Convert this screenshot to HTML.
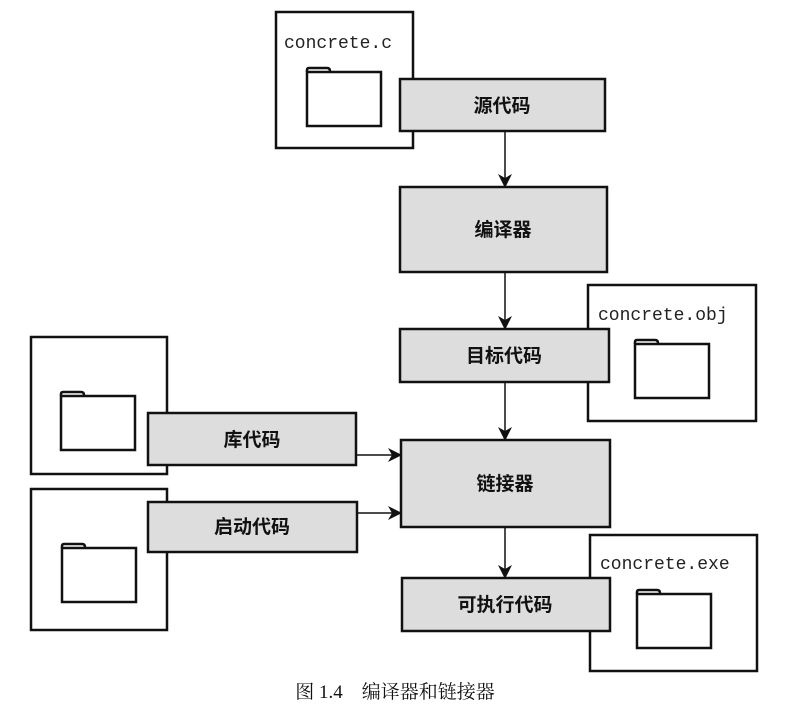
<!DOCTYPE html>
<html><head><meta charset="utf-8"><style>
html,body{margin:0;padding:0;background:#fff;}
svg{display:block;}
.m{font-family:"Liberation Mono",monospace;font-size:18px;fill:#222;}
.c{font-family:"Liberation Sans","Noto Sans CJK SC",sans-serif;font-size:19px;font-weight:bold;fill:#111;}
.cap{font-family:"Liberation Serif","Noto Serif CJK SC",serif;font-size:19px;fill:#111;}
</style></head><body>
<svg width="790" height="718" viewBox="0 0 790 718" xmlns="http://www.w3.org/2000/svg">
<defs>
<marker id="a" markerWidth="14" markerHeight="14" refX="13" refY="7" orient="auto" markerUnits="userSpaceOnUse">
<path d="M0,0 L14,7 L0,14 L4,7 Z" fill="#111"/></marker>
<g id="f"><path d="M0,4 L0,2 Q0,0 2,0 L20,0 Q23,0 23,3 L23,4" fill="none" stroke="#111" stroke-width="2.5"/><rect x="0" y="4" width="74" height="54" fill="#fff" stroke="#111" stroke-width="2.5"/></g>
</defs>
<g fill="#fff" stroke="#111" stroke-width="2.5">
<rect x="276" y="12" width="137" height="136"/>
<rect x="588" y="285" width="168" height="136"/>
<rect x="31" y="337" width="136" height="137"/>
<rect x="31" y="489" width="136" height="141"/>
<rect x="590" y="535" width="167" height="136"/>
</g>
<text class="m" x="284" y="48">concrete.c</text>
<text class="m" x="598" y="320">concrete.obj</text>
<text class="m" x="600" y="569">concrete.exe</text>
<use href="#f" x="307" y="68"/>
<use href="#f" x="635" y="340"/>
<use href="#f" x="61" y="392"/>
<use href="#f" x="62" y="544"/>
<use href="#f" x="637" y="590"/>
<g fill="#ddd" stroke="#111" stroke-width="2.5">
<rect x="400" y="79" width="205" height="52"/>
<rect x="400" y="187" width="207" height="85"/>
<rect x="400" y="329" width="209" height="53"/>
<rect x="148" y="413" width="208" height="52"/>
<rect x="148" y="502" width="209" height="50"/>
<rect x="401" y="440" width="209" height="87"/>
<rect x="402" y="578" width="208" height="53"/>
</g>
<g stroke="#111" stroke-width="1.5" marker-end="url(#a)">
<line x1="505" y1="131" x2="505" y2="187"/>
<line x1="505" y1="272" x2="505" y2="329"/>
<line x1="505" y1="382" x2="505" y2="440"/>
<line x1="505" y1="527" x2="505" y2="578"/>
<line x1="356" y1="455" x2="401" y2="455"/>
<line x1="357" y1="513" x2="401" y2="513"/>
</g>
<g class="c" text-anchor="middle">
<text x="502" y="112">源代码</text>
<text x="503" y="236">编译器</text>
<text x="504" y="362">目标代码</text>
<text x="252" y="446">库代码</text>
<text x="252" y="533">启动代码</text>
<text x="505" y="490">链接器</text>
<text x="505" y="611">可执行代码</text>
</g>
<text class="cap" x="395" y="698" text-anchor="middle">图 1.4　编译器和链接器</text>
</svg>
</body></html>
